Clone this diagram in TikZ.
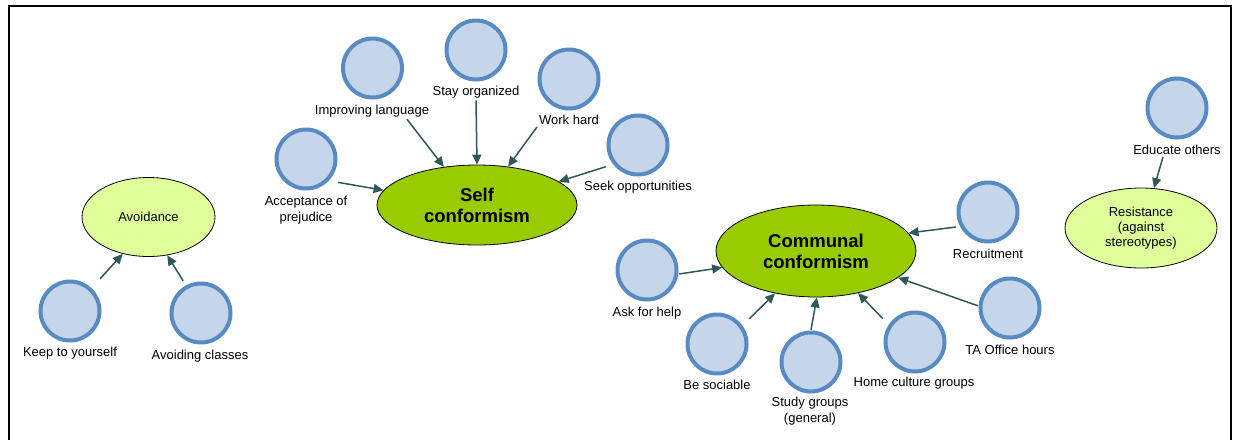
\documentclass[tikz,border=0pt]{standalone}
\usepackage{fontspec}
\setmainfont{Liberation Sans}
\usepackage{tikz}
\usetikzlibrary{shapes.geometric,arrows.meta}

\definecolor{dotfill}{RGB}{197,214,234}
\definecolor{dotline}{RGB}{88,139,196}
\definecolor{maingreen}{RGB}{153,204,0}
\definecolor{palegreen}{RGB}{222,255,153}
\definecolor{linkcol}{RGB}{47,88,88}

\tikzset{
  ideadot/.style={rectangle,minimum size=64pt,inner sep=0pt,
    path picture={\draw[dotline,line width=4pt,fill=dotfill]
      (path picture bounding box.center) circle (29.5pt);}},
  lbl/.style={font=\fontsize{13}{16}\selectfont,inner sep=2pt,align=center},
  core/.style={ellipse,draw,line width=0.8pt,fill=maingreen,inner sep=0pt,
    align=center,font=\fontsize{18.5}{21}\selectfont\bfseries},
  side/.style={ellipse,draw,line width=0.8pt,fill=palegreen,inner sep=0pt,
    align=center,font=\fontsize{13}{15}\selectfont},
  link/.style={draw=linkcol,line width=1.5pt,-{Triangle[length=10pt,width=9pt]}}
}

\begin{document}
\begin{tikzpicture}[x=1pt,y=-1pt]
\useasboundingbox (0,0) rectangle (1235,440);
\draw[line width=2pt] (8.5,440) -- (8.5,6) -- (1231,6) -- (1231,440);

% strategies
\node[side,minimum width=133pt,minimum height=79pt] (avoid) at (148.5,217) {Avoidance};
\node[core,minimum width=200pt,minimum height=80pt] (self) at (477,205) {Self\\conformism};
\node[core,minimum width=200pt,minimum height=92pt] (comm) at (816,251) {Communal\\conformism};
\node[side,minimum width=152pt,minimum height=80pt] (resist) at (1141,228) {Resistance\\(against\\stereotypes)};

% avoidance
\node[ideadot] (keep) at (70,311) {};
\node[lbl] (keepl) at (70,353) {Keep to yourself};
\node[ideadot] (avcl) at (201,313) {};
\node[lbl] (avcll) at (200,356) {Avoiding classes};

% self conformism
\node[ideadot] (acc) at (306,159) {};
\node[lbl] (accl) at (306,210) {Acceptance of\\prejudice};
\node[ideadot] (imp) at (372.5,68) {};
\node[lbl] (impl) at (372,111) {Improving language};
\node[ideadot] (stay) at (476,50) {};
\node[lbl] (stayl) at (476,92) {Stay organized};
\node[ideadot] (work) at (569,79) {};
\node[lbl] (workl) at (569,120) {Work hard};
\node[ideadot] (seek) at (638,145) {};
\node[lbl] (seekl) at (638,187) {Seek opportunities};

% communal conformism
\node[ideadot] (recr) at (988,212) {};
\node[lbl] (recrl) at (988,254) {Recruitment};
\node[ideadot] (ask) at (647,270) {};
\node[lbl] (askl) at (647,313) {Ask for help};
\node[ideadot] (soc) at (717,344) {};
\node[lbl] (socl) at (717,385) {Be sociable};
\node[ideadot] (study) at (811,362) {};
\node[lbl] (studyl) at (810,411) {Study groups\\(general)};
\node[ideadot] (home) at (915,342) {};
\node[lbl] (homel) at (914,383) {Home culture groups};
\node[ideadot] (ta) at (1010,308) {};
\node[lbl] (tal) at (1010,350) {TA Office hours};

% resistance
\node[ideadot] (edu) at (1177,108) {};
\node[lbl] (edul) at (1177,150) {Educate others};

\draw[link] (keep.47) -- (avoid.-125);
\draw[link] (avcl.119) -- (avoid.-64);

\draw[link] (acc.-36) -- (self.171);
\draw[link] ([xshift=35pt]impl.south) -- (self.131);
\draw[link] (stayl.south) -- (self.90);
\draw[link] (workl.south west) -- (self.51);
\draw[link] (seek.214) -- (self.16);

\draw[link] (recr.205) -- (comm.11);
\draw[link] (ask.-7) -- (comm.190);
\draw[link] (soc.38) -- (comm.-134);
\draw[link] (study.north) -- (comm.-89);
\draw[link] (home.144) -- (comm.-45);
\draw[link] (ta.176) -- (comm.-18);

\draw[link] ([xshift=-14pt]edul.south) -- (resist.72);
\end{tikzpicture}
\end{document}
